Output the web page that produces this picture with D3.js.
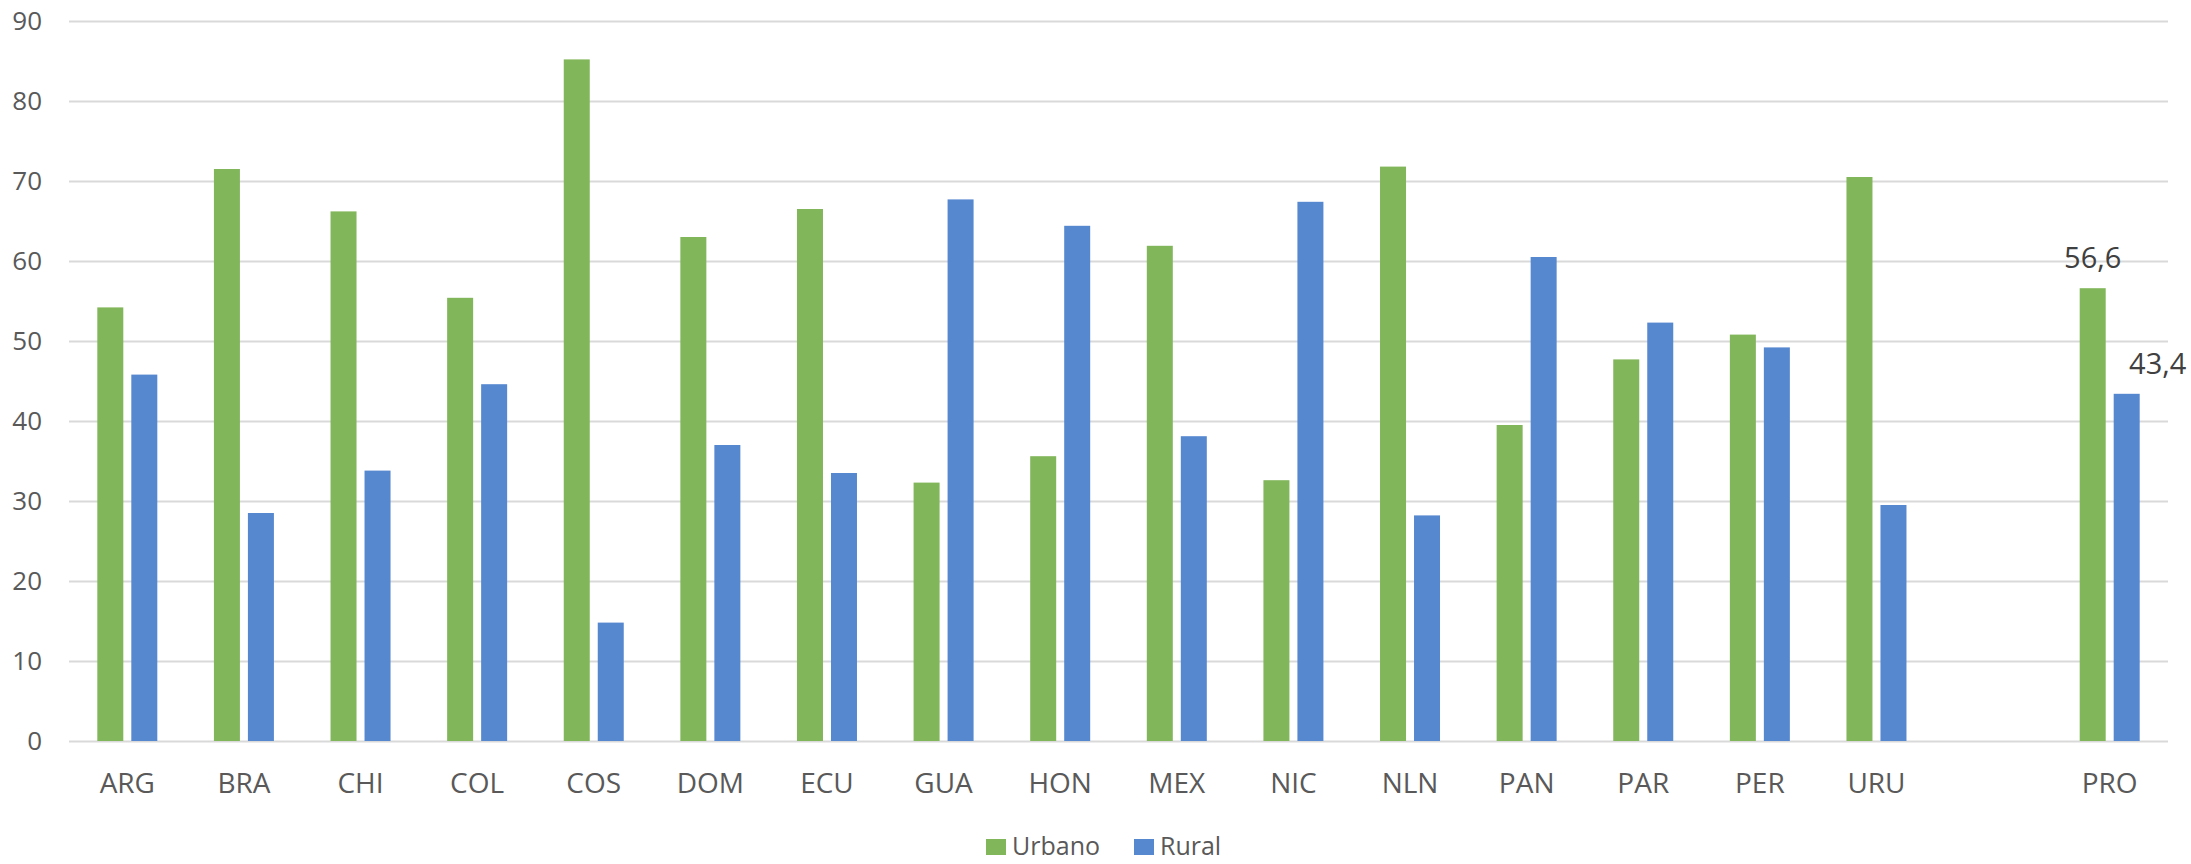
<!DOCTYPE html>
<html>
<head>
<meta charset="utf-8">
<script src="https://cdn.jsdelivr.net/npm/d3@7"></script>
<style>
  html, body { margin: 0; padding: 0; background: #fff; }
  svg { display: block; }
  text { font-family: "Open Sans", "Noto Sans", sans-serif; }
</style>
</head>
<body>
<svg id="chart" width="2191" height="864"></svg>
<script>
// ---- data ----
const categories = ["ARG","BRA","CHI","COL","COS","DOM","ECU","GUA","HON","MEX","NIC","NLN","PAN","PAR","PER","URU","","PRO"];
const urbano = [54.2,71.5,66.2,55.4,85.2,63.0,66.5,32.3,35.6,61.9,32.6,71.8,39.5,47.7,50.8,70.5,null,56.6];
const rural  = [45.8,28.5,33.8,44.6,14.8,37.0,33.5,67.7,64.4,38.1,67.4,28.2,60.5,52.3,49.2,29.5,null,43.4];
const seriesNames = ["Urbano","Rural"];
const seriesColors = ["#81B65A","#5688D0"];
const yTicks = [0,10,20,30,40,50,60,70,80,90];
const labeledCategory = "PRO";

// ---- layout ----
const svg = d3.select("#chart");
const margin = {left: 69, right: 23, top: 21, bottom: 123};
const W = 2191, H = 864;
const plotW = W - margin.left - margin.right;
const plotH = H - margin.top - margin.bottom;

const x = d3.scaleBand().domain(categories.map((c,i)=>i)).range([margin.left, margin.left + plotW]).paddingInner(0).paddingOuter(0);
const y = d3.scaleLinear().domain([0,90]).range([margin.top + plotH, margin.top]);

const barW = 26, gap = 8;
const groupW = barW*2 + gap;
const sub = d3.scaleOrdinal().domain([0,1]).range([0, barW + gap]);

// gridlines
const grid = svg.append("g")
  .attr("transform", `translate(${margin.left},0)`)
  .call(d3.axisLeft(y).tickValues(yTicks).tickSize(-plotW).tickFormat(""));
grid.select(".domain").remove();
grid.selectAll("line").attr("stroke", "#d9d9d9").attr("stroke-width", 2);

// y labels
const yAxis = svg.append("g")
  .attr("transform", `translate(${margin.left - 27},0)`)
  .call(d3.axisLeft(y).tickValues(yTicks).tickSize(0).tickPadding(0));
yAxis.select(".domain").remove();
yAxis.selectAll("text")
  .attr("fill", "#595959")
  .style("font-size", "26px")
  .style("font-family", "'Open Sans', 'Noto Sans', sans-serif");

// x labels
const xAxis = svg.append("g")
  .attr("transform", `translate(0,${margin.top + plotH})`)
  .call(d3.axisBottom(x).tickSize(0).tickPadding(32).tickFormat(i => categories[i]));
xAxis.select(".domain").remove();
xAxis.selectAll("text")
  .attr("fill", "#595959")
  .style("font-size", "28px")
  .style("font-family", "'Open Sans', 'Noto Sans', sans-serif");

// bars
const data = [urbano, rural];
data.forEach((vals, s) => {
  svg.append("g").selectAll("rect")
    .data(vals.map((v,i)=>({v,i})).filter(d => d.v !== null))
    .join("rect")
    .attr("x", d => x(d.i) + (x.bandwidth() - groupW)/2 + sub(s))
    .attr("y", d => y(d.v))
    .attr("width", barW)
    .attr("height", d => y(0) - y(d.v))
    .attr("fill", seriesColors[s]);
});

// data labels on PRO
const pi = categories.indexOf(labeledCategory);
const labelDx = [0, 31];
data.forEach((vals, s) => {
  const v = vals[pi];
  svg.append("text")
    .attr("x", x(pi) + (x.bandwidth() - groupW)/2 + sub(s) + barW/2 + labelDx[s])
    .attr("y", y(v) - 20)
    .attr("text-anchor", "middle")
    .attr("fill", "#404040")
    .style("font-size", "29px")
    .text(d3.format(".1f")(v).replace(".", ","));
});

// legend
const legend = svg.append("g");
const legendX = [986, 1134];
seriesNames.forEach((n, s) => {
  legend.append("rect")
    .attr("x", legendX[s]).attr("y", 839)
    .attr("width", 20).attr("height", 16)
    .attr("fill", seriesColors[s]);
  legend.append("text")
    .attr("x", legendX[s] + 26).attr("y", 855)
    .attr("fill", "#595959")
    .style("font-size", "25px")
    .text(n);
});
</script>
</body>
</html>
